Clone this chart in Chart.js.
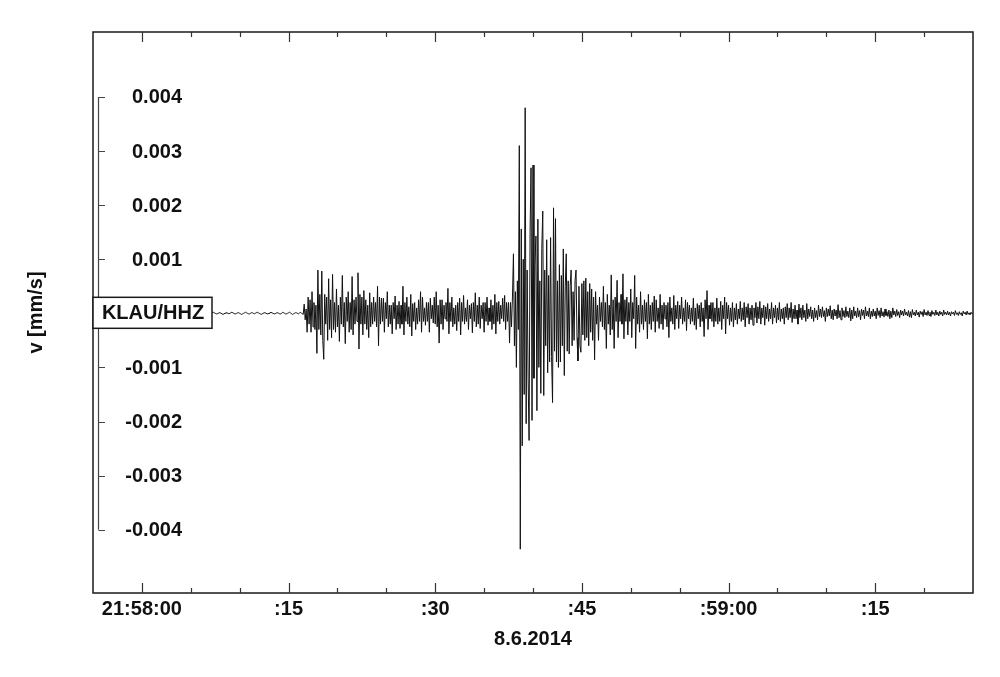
<!DOCTYPE html>
<html><head><meta charset="utf-8">
<script src="https://cdn.jsdelivr.net/npm/chart.js@4.4.0/dist/chart.umd.min.js"></script>
<style>html,body{margin:0;padding:0;background:#fff;}canvas{display:block;}</style>
</head><body>
<canvas id="c" width="1000" height="677"></canvas>
<script>
const stationLabel = 'KLAU/HHZ';
const dateLabel = '8.6.2014';
const yTitle = 'v [mm/s]';
// time of first sample in seconds relative to 21:58:00, and sample spacing (s)
const startOffset = -5;
const sampleStep = 0.1;

// velocity samples in units of 0.00001 mm/s
const preEvent = [
0,1,1,0,-1,-1,0,1,2,1,0,-1,-1,-2,-1,0,1,1,0,0,-1,0,1,2,
1,0,-1,-1,0,1,1,0,-1,-2,-1,0,0,1,2,1,0,-1,-1,0,1,0,-1,-1,
0,1,2,1,1,0,-1,-2,-1,0,1,1,0,-1,0,1,2,1,0,-1,-1,-1,0,1,
1,0,-1,-2,-2,-1,0,1,1,2,1,0,-1,0,1,0,-1,-1,0,1,2,1,0,-1,
-1,0,1,1,0,-1,-2,-1,0,1,1,0,0,1,2,1,0,-1,-1,0,1,0,-1,-2,
-1,0,1,2,1,0,-1,-1,0,1,1,0,-1,-2,-1,0,1,1,0,-1,0,1,2,1,
0,-1,-1,0,1,1,0,-1,-2,-1,0,1,2,1,0,-1,-1,0,1,1,0,-1,0,1,
2,1,0,-1,-2,-1,0,1,1,0,-1,-1,0,1,2,1,0,-1,-1,0,1,1,0,-1,
-1,0,2,1,0,-1,-1,0,1,2,1,-1,-2,-1,0,1,1,0,-1,0,2,1,-1,-2];
const pCoda = [
17,-12,8,-35,30,-20,25,-35,40,-25,20,-30,15,-74,80,-30,35,-40,78,-50,
-85,35,-20,30,-50,64,-30,25,-45,72,-30,20,-35,45,-25,15,-52,30,-20,70,
-25,20,-56,30,-15,40,-35,20,-30,68,-40,25,-20,30,-15,75,-66,35,-20,30,
-40,42,-20,25,-30,15,-45,38,-25,20,-20,30,-15,20,-25,50,-60,30,-20,28,
-15,28,-35,20,-10,40,-25,15,-20,15,-38,20,-10,32,-30,15,-20,22,-28,15,
-20,50,-40,20,-15,30,-20,12,-25,35,-42,18,-15,20,-30,10,-20,25,-15,40,
-35,30,-15,10,-22,20,-15,20,-35,28,-10,15,-18,30,-20,40,-25,15,-55,25,
-20,25,-30,15,-10,20,-15,46,-38,20,-15,30,-25,10,-20,15,-32,20,-15,28,
-40,20,-15,33,-20,10,-15,25,-30,15,-10,18,-36,20,-15,38,-25,15,-20,30,
-28,15,-10,20,-35,20,-15,30,-22,10,-15,25,-30,15,-20,35,-38,20,-15,22,
-20,15,-10,28,-15,33,-30,20,-15,20,-55,20,-25,30];
const sPhase = [
110,-60,40,-100,60,-30,310,-436,156,-245,100,-150,380,-204,80,-120,-235,150,269,-198,
274,-120,90,143,-180,174,-100,60,-148,120,189,-152,80,-60,136,-110,70,-90,140,-80,
-165,195,-70,175,-90,60,-100,90,-90,70,-60,119,-115,50,110,-70,60,-75,50,80,
-60,40,-50,60,80,-45,-88,50,-60,-72,55,-40,60,-50,65,-45,40,-60,55,-35,
45,-50,30,-86];
const coda = [
40,-20,15,-50,30,-15,20,-25,50,-30,20,-65,35,-20,15,-40,71,-30,25,-65,
30,-15,61,-45,20,-15,35,-20,73,-47,25,-15,30,-40,20,-15,45,-45,20,-10,
70,-65,30,-20,15,-35,40,-20,15,-30,25,-15,20,-47,35,-20,15,-30,20,-15,
32,-35,25,-15,10,-28,35,-20,15,-30,20,-10,15,-25,20,-45,30,-15,10,-20,
33,-30,15,-10,22,-28,15,-10,30,-20,10,-15,25,-32,20,-10,15,-20,10,-15,
28,-22,10,-30,18,-10,15,-25,20,-15,10,-43,25,-10,42,-30,15,-10,20,-15,
20,-25,10,-15,28,-20,10,-15,22,-30,15,-10,30,-38,20,-10,15,-22,10,-15,
20,-25,10,-12,18,-20,8,-10,22,-15,10,-12,20,-25,12,-8,18,-20,10,-12,
15,-22,10,-8,20,-18,12,-10,22,-20,10,-8,15,-22,12,-10,18,-15,8,-10,
20,-20,10,-8,15,-18,10,-12,20,-15,8,-10,10,-20,12,-8,18,-12,10,-8,
20,-17,8,-10,15,-10,6,-20,17,-8,10,-12,15,-8,6,-15,18,-10,8,-6,
12,-10,6,-15,10,-8,5,-12,15,-6,8,-8,12,-6,5,-15,10,-6,8,-5,
14,-10,6,-12,8,-5,6,-10,16,-8,5,-12,10,-6,5,-8,12,-6,4,-8,
10,-14,6,-10,12,-5,4,-8,10,-6,5,-12,8,-4,6,-10,12,-5,4,-6,
10,-10,4,-6,8,-5,4,-10,10,-4,5,-8,10,-5,3,-7,8,-4,3,-6,
6,-10,4,-8,10,-3,4,-6,7,-4,3,-8,6,-3,4,-5,8,-3,2,-5,
5,-7,3,-8,7,-3,2,-5,6,-3,2,-7,4,-2,3,-6,7,-3,2,-4,
5,-4,2,-6,5,-2,2,-4,6,-3,2,-5,4,-2,2,-5,6,-2,2,-3,
4,-3,2,-5,3,-1,2,-4,5,-2,1,-4,3,-2,1,-5,4,-1,2,-3,
4,-2,1,-3,2,-1,1];

const xTickValues = [0, 15, 30, 45, 60, 75];
const xTickLabels = ['21:58:00', ':15', ':30', ':45', ':59:00', ':15'];
const yTickValues = [0.004, 0.003, 0.002, 0.001, 0, -0.001, -0.002, -0.003, -0.004];
const yTickLabels = ['0.004', '0.003', '0.002', '0.001', '', '-0.001', '-0.002', '-0.003', '-0.004'];

const velocity = preEvent.concat(pCoda, sPhase, coda);
const points = velocity.map((v, i) => ({ x: startOffset + i * sampleStep, y: v * 1e-5 }));

const FONT = 'bold 20px "Liberation Sans", Arial, Helvetica, sans-serif';
const INK = '#111';

const decor = {
  id: 'decor',
  afterDraw(chart) {
    const { ctx, chartArea: a, scales: { x, y } } = chart;
    ctx.save();
    // frame
    ctx.strokeStyle = '#1a1a1a';
    ctx.lineWidth = 1.5;
    ctx.strokeRect(a.left, a.top, a.right - a.left, a.bottom - a.top);
    // x ticks (inside, top and bottom), major every 15 s, minor every 5 s
    ctx.lineWidth = 1.2;
    ctx.strokeStyle = '#333';
    for (let s = x.min + 5; s < x.max; s += 5) {
      const px = Math.round(x.getPixelForValue(s)) + 0.5;
      const len = (s % 15 === 0) ? 10 : 5;
      ctx.beginPath();
      ctx.moveTo(px, a.top); ctx.lineTo(px, a.top + len);
      ctx.moveTo(px, a.bottom); ctx.lineTo(px, a.bottom - len);
      ctx.stroke();
    }
    // x labels
    ctx.fillStyle = INK;
    ctx.font = FONT;
    ctx.textAlign = 'center';
    ctx.textBaseline = 'middle';
    xTickValues.forEach((v, i) => {
      ctx.fillText(xTickLabels[i], x.getPixelForValue(v), a.bottom + 16);
    });
    ctx.fillText(dateLabel, (a.left + a.right) / 2, a.bottom + 46);
    // y title
    ctx.save();
    ctx.translate(36, (a.top + a.bottom) / 2);
    ctx.rotate(-Math.PI / 2);
    ctx.fillText(yTitle, 0, 0);
    ctx.restore();
    // y bracket axis
    const ax = a.left + 5.5;
    const yTop = y.getPixelForValue(yTickValues[0]);
    const yBot = y.getPixelForValue(yTickValues[yTickValues.length - 1]);
    ctx.strokeStyle = '#444';
    ctx.lineWidth = 1.2;
    ctx.beginPath();
    ctx.moveTo(ax, yTop); ctx.lineTo(ax, yBot);
    yTickValues.forEach(v => {
      const py = Math.round(y.getPixelForValue(v)) + 0.5;
      ctx.moveTo(ax, py); ctx.lineTo(ax + 6.5, py);
    });
    ctx.stroke();
    ctx.textAlign = 'right';
    yTickValues.forEach((v, i) => {
      if (yTickLabels[i]) ctx.fillText(yTickLabels[i], a.left + 89, y.getPixelForValue(v) + 1);
    });
    // station box
    const y0 = y.getPixelForValue(0);
    ctx.fillStyle = '#fff';
    ctx.fillRect(a.left, y0 - 16, 119, 31);
    ctx.strokeStyle = '#1a1a1a';
    ctx.lineWidth = 1.5;
    ctx.strokeRect(a.left, y0 - 16, 119, 31);
    ctx.fillStyle = INK;
    ctx.textAlign = 'center';
    ctx.fillText(stationLabel, a.left + 60, y0 + 0.5);
    ctx.restore();
  }
};

new Chart(document.getElementById('c'), {
  type: 'line',
  data: { datasets: [{ data: points, borderColor: '#111', borderWidth: 1, pointRadius: 0, tension: 0, fill: false }] },
  options: {
    responsive: false,
    animation: false,
    devicePixelRatio: 1,
    parsing: false,
    layout: { padding: { left: 93, right: 27, top: 32, bottom: 84 } },
    scales: {
      x: { type: 'linear', min: -5, max: 85, display: false },
      y: { type: 'linear', min: -0.00517, max: 0.0052, display: false }
    },
    plugins: { legend: { display: false }, tooltip: { enabled: false } }
  },
  plugins: [decor]
});
</script>
</body></html>
